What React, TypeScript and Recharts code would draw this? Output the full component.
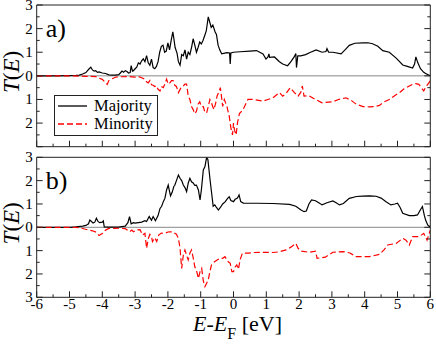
import React from 'react';
import { LineChart, Line, XAxis, YAxis, ReferenceLine, Legend } from 'recharts';

// energy axis (eV) and transmission axis ticks, every 0.5
const energyTicks = [-6, -5.5, -5, -4.5, -4, -3.5, -3, -2.5, -2, -1.5, -1, -0.5, 0, 0.5, 1, 1.5, 2, 2.5, 3, 3.5, 4, 4.5, 5, 5.5, 6];
const transTicks = [-3, -2.5, -2, -1.5, -1, -0.5, 0, 0.5, 1, 1.5, 2, 2.5, 3];
const seriesNames = ['Majority', 'Minority'];
const panelTags = ['a)', 'b)'];

// [E - E_F, T(E)]; minority is drawn downward
const aMajority: [number, number][] = [
  [-6, 0], [-5.5, 0], [-5, 0.01], [-4.8, 0.02], [-4.7, 0.03], [-4.6, 0.08], [-4.5, 0.14], [-4.45, 0.22], [-4.4, 0.3],
  [-4.35, 0.37], [-4.3, 0.25], [-4.25, 0.2], [-4.2, 0.22], [-4.15, 0.15], [-4.1, 0.17], [-4.0, 0.12], [-3.9, 0.1],
  [-3.8, 0.04], [-3.7, 0.03], [-3.6, 0.03], [-3.5, 0.05], [-3.45, 0.12], [-3.4, 0.2], [-3.35, 0.15], [-3.3, 0.22],
  [-3.25, 0.18], [-3.2, 0.12], [-3.15, 0.14], [-3.12, 0.43], [-3.08, 0.2], [-3.05, 0.22], [-3.0, 0.3], [-2.95, 0.37],
  [-2.9, 0.55], [-2.85, 0.5], [-2.8, 0.64], [-2.75, 0.72], [-2.7, 0.6], [-2.65, 0.86], [-2.6, 0.55], [-2.55, 0.45],
  [-2.5, 0.71], [-2.45, 0.35], [-2.4, 0.3], [-2.35, 0.4], [-2.3, 0.6], [-2.25, 1.0], [-2.2, 1.25], [-2.15, 1.3],
  [-2.1, 1.0], [-2.05, 1.05], [-2.0, 1.4], [-1.95, 1.1], [-1.9, 1.5], [-1.85, 1.86], [-1.82, 1.6], [-1.78, 1.2],
  [-1.72, 0.95], [-1.68, 0.6], [-1.63, 0.45], [-1.58, 0.9], [-1.53, 0.85], [-1.48, 1.1], [-1.43, 0.71], [-1.38, 1.0],
  [-1.33, 0.9], [-1.28, 1.2], [-1.23, 1.57], [-1.18, 1.3], [-1.13, 1.0], [-1.08, 1.2], [-1.03, 1.43], [-0.98, 1.35],
  [-0.93, 1.5], [-0.88, 1.7], [-0.83, 1.9], [-0.77, 2.5], [-0.73, 2.3], [-0.68, 2.05], [-0.63, 2.15], [-0.56, 1.86],
  [-0.52, 1.75], [-0.47, 1.3], [-0.42, 1.1], [-0.36, 0.93], [-0.3, 0.95], [-0.2, 0.98], [-0.12, 0.97], [-0.1, 0.5],
  [-0.08, 0.97], [0, 1.0], [0.2, 1.02], [0.5, 1.05], [0.7, 1.07], [0.9, 0.93], [0.99, 0.71], [1.05, 0.8], [1.08, 0.93],
  [1.1, 0.78], [1.25, 0.8], [1.4, 0.6], [1.5, 0.5], [1.65, 0.43], [1.75, 0.6], [1.85, 0.8], [1.9, 0.95], [1.92, 0.35],
  [1.96, 0.85], [2.05, 0.85], [2.2, 0.9], [2.35, 1.0], [2.52, 1.1], [2.7, 1.0], [2.82, 1.03], [2.85, 1.15], [2.9, 1.0],
  [3.03, 1.0], [3.28, 0.93], [3.4, 1.1], [3.53, 1.29], [3.7, 1.38], [3.94, 1.4], [4.1, 1.4], [4.24, 1.36], [4.4, 1.25],
  [4.55, 1.07], [4.75, 1.0], [4.96, 0.75], [5.16, 0.46], [5.3, 0.4], [5.46, 0.33], [5.52, 0.5], [5.56, 0.8],
  [5.62, 0.55], [5.7, 0.3], [5.8, 0.15], [5.86, 0.1], [5.95, 0.03], [6, 0.02],
];

const aMinority: [number, number][] = [
  [-6, 0], [-5, 0], [-4.5, 0.02], [-4.2, 0.03], [-4.1, 0.1], [-4.0, 0.15], [-3.92, 0.26], [-3.85, 0.36], [-3.8, 0.2],
  [-3.7, 0.12], [-3.6, 0.06], [-3.5, 0.04], [-3.2, 0.03], [-3.0, 0.05], [-2.9, 0.03], [-2.8, 0.08], [-2.7, 0.14],
  [-2.65, 0.25], [-2.6, 0.3], [-2.55, 0.2], [-2.5, 0.38], [-2.45, 0.4], [-2.4, 0.45], [-2.35, 0.42], [-2.3, 0.57],
  [-2.24, 0.64], [-2.2, 0.45], [-2.14, 0.5], [-2.08, 0.3], [-2.04, 0.14], [-1.99, 0.35], [-1.94, 0.3], [-1.89, 0.2],
  [-1.84, 0.2], [-1.79, 0.4], [-1.74, 0.45], [-1.68, 0.71], [-1.6, 0.5], [-1.53, 0.43], [-1.48, 0.35], [-1.43, 0.35],
  [-1.38, 0.85], [-1.33, 1.0], [-1.28, 1.3], [-1.23, 1.43], [-1.18, 1.6], [-1.13, 1.5], [-1.08, 1.2], [-1.03, 1.1],
  [-0.98, 1.3], [-0.92, 1.3], [-0.87, 1.55], [-0.82, 1.57], [-0.77, 1.3], [-0.72, 1.0], [-0.67, 1.15], [-0.6, 1.43],
  [-0.55, 1.2], [-0.5, 0.85], [-0.45, 0.7], [-0.4, 0.5], [-0.33, 1.29], [-0.28, 1.0], [-0.2, 1.3], [-0.13, 1.71],
  [-0.08, 2.2], [-0.03, 2.5], [0.0, 2.0], [0.03, 2.3], [0.08, 2.5], [0.12, 2.0], [0.18, 1.6], [0.29, 1.43], [0.44, 1.0],
  [0.6, 1.0], [0.9, 1.07], [1.05, 1.0], [1.2, 0.93], [1.4, 0.71], [1.5, 0.86], [1.6, 0.75], [1.73, 0.5], [1.85, 0.7],
  [1.97, 0.86], [2.05, 0.7], [2.1, 0.43], [2.15, 0.86], [2.3, 0.84], [2.5, 1.0], [2.7, 1.14], [3.03, 1.1], [3.2, 1.0],
  [3.43, 0.93], [3.6, 1.05], [3.74, 1.2], [3.95, 1.3], [4.14, 1.31], [4.3, 1.3], [4.45, 1.25], [4.6, 1.1], [4.75, 1.0],
  [4.9, 0.85], [5.06, 0.71], [5.2, 0.55], [5.36, 0.43], [5.46, 0.36], [5.56, 0.33], [5.65, 0.36], [5.7, 0.45],
  [5.8, 0.64], [5.85, 0.5], [5.9, 0.4], [6, 0.21],
];

const bMajority: [number, number][] = [
  [-6, 0], [-5, 0], [-4.8, 0.02], [-4.6, 0.05], [-4.5, 0.08], [-4.42, 0.15], [-4.38, 0.31], [-4.33, 0.25], [-4.28, 0.18],
  [-4.23, 0.22], [-4.18, 0.39], [-4.13, 0.25], [-4.08, 0.2], [-4.0, 0.22], [-3.97, 0.27], [-3.94, 0.02], [-3.8, 0.01],
  [-3.5, 0.01], [-3.3, 0.05], [-3.22, 0.2], [-3.17, 0.46], [-3.12, 0.15], [-3.05, 0.2], [-3.0, 0.18], [-2.9, 0.2],
  [-2.8, 0.22], [-2.7, 0.28], [-2.65, 0.25], [-2.57, 0.46], [-2.5, 0.3], [-2.45, 0.46], [-2.38, 0.28], [-2.3, 0.5],
  [-2.24, 0.81], [-2.19, 0.9], [-2.14, 1.1], [-2.09, 1.25], [-2.04, 1.6], [-1.99, 1.81], [-1.96, 1.6], [-1.92, 1.35],
  [-1.87, 1.5], [-1.82, 1.75], [-1.79, 1.8], [-1.74, 2.0], [-1.68, 2.24], [-1.63, 2.1], [-1.58, 2.0], [-1.53, 1.81],
  [-1.48, 1.7], [-1.43, 1.53], [-1.38, 1.9], [-1.33, 2.1], [-1.28, 1.95], [-1.23, 1.9], [-1.18, 1.8], [-1.13, 1.81],
  [-1.07, 1.6], [-1.02, 1.17], [-0.98, 1.6], [-0.92, 2.46], [-0.87, 2.6], [-0.82, 3.0], [-0.78, 2.9], [-0.72, 2.1],
  [-0.67, 1.5], [-0.62, 0.9], [-0.57, 0.96], [-0.52, 0.85], [-0.46, 0.74], [-0.4, 0.85], [-0.33, 1.0], [-0.25, 1.1],
  [-0.18, 1.24], [-0.13, 1.31], [-0.08, 1.15], [0.0, 1.1], [0.05, 1.2], [0.12, 1.25], [0.17, 1.39], [0.22, 1.1],
  [0.3, 1.04], [0.7, 1.03], [1.2, 1.02], [1.71, 0.98], [1.9, 0.9], [2.06, 0.74], [2.15, 0.67], [2.22, 0.7], [2.3, 1.0],
  [2.38, 1.17], [2.5, 1.14], [2.6, 1.05], [2.7, 0.96], [2.85, 1.05], [3.03, 1.13], [3.13, 1.05], [3.23, 0.96],
  [3.35, 1.02], [3.53, 1.24], [3.75, 1.32], [3.94, 1.34], [4.15, 1.35], [4.35, 1.33], [4.5, 1.25], [4.65, 1.1],
  [4.8, 0.96], [4.92, 1.0], [5.0, 1.03], [5.08, 0.85], [5.16, 0.6], [5.36, 0.5], [5.5, 0.5], [5.61, 0.53], [5.7, 0.75],
  [5.76, 0.89], [5.82, 0.5], [5.86, 0.3], [5.92, 0.1], [5.96, 0.05], [6, 0.03],
];

const bMinority: [number, number][] = [
  [-6, 0], [-4.8, 0], [-4.6, 0.05], [-4.42, 0.12], [-4.3, 0.15], [-4.18, 0.21], [-4.1, 0.35], [-3.99, 0.26], [-3.9, 0.12],
  [-3.8, 0.05], [-3.5, 0.04], [-3.3, 0.06], [-3.17, 0.19], [-3.1, 0.12], [-3.05, 0.19], [-2.97, 0.12], [-2.85, 0.1],
  [-2.77, 0.33], [-2.7, 0.26], [-2.65, 0.9], [-2.6, 0.5], [-2.55, 0.3], [-2.5, 0.4], [-2.47, 0.61], [-2.4, 0.45],
  [-2.34, 0.61], [-2.28, 0.33], [-2.2, 0.25], [-2.1, 0.26], [-2.0, 0.2], [-1.94, 0.19], [-1.84, 0.2], [-1.79, 0.26],
  [-1.74, 0.3], [-1.68, 0.47], [-1.63, 0.9], [-1.58, 1.76], [-1.53, 1.2], [-1.48, 0.97], [-1.43, 1.2], [-1.38, 1.4],
  [-1.33, 1.1], [-1.28, 0.97], [-1.23, 1.3], [-1.18, 1.69], [-1.12, 1.9], [-1.07, 2.19], [-1.02, 1.9], [-0.97, 1.76],
  [-0.92, 2.3], [-0.87, 2.54], [-0.82, 2.4], [-0.77, 2.26], [-0.72, 1.9], [-0.67, 1.61], [-0.6, 1.5], [-0.5, 1.4],
  [-0.4, 1.33], [-0.33, 1.33], [-0.26, 1.26], [-0.18, 1.45], [-0.1, 1.54], [-0.05, 1.9], [0.0, 1.9], [0.05, 1.7],
  [0.1, 1.61], [0.15, 1.8], [0.2, 1.4], [0.27, 1.11], [0.44, 1.11], [0.6, 1.08], [1.0, 1.07], [1.2, 1.08], [1.4, 1.05],
  [1.6, 0.97], [1.75, 0.85], [1.9, 0.69], [1.97, 0.9], [2.06, 1.02], [2.3, 1.07], [2.5, 1.02], [2.55, 1.33],
  [2.8, 1.28], [3.03, 1.07], [3.33, 1.04], [3.55, 1.1], [3.74, 1.26], [4.14, 1.26], [4.45, 1.16], [4.6, 0.95],
  [4.7, 0.76], [4.96, 0.69], [5.16, 0.47], [5.26, 0.55], [5.36, 0.76], [5.46, 0.4], [5.66, 0.4], [5.8, 0.26],
  [5.9, 0.55], [6, 0.12],
];

const INK = '#222';
const RED = '#ff0000';
const FONT = 'Liberation Serif, Times New Roman, serif';
const DASH = '6 3';

const txt = { fontFamily: FONT };

const isMajor = (v: number) => Math.abs(v - Math.round(v)) < 1e-6;
const toRows = (pts: [number, number][], sign: number) => pts.map(([e, t]) => ({ e, t: sign * t }));

const BottomTick = ({ x, y, payload, showText }: any) => {
  const len = isMajor(payload.value) ? 6 : 3;
  return (
    <g>
      <line x1={x} x2={x} y1={y} y2={y - len} stroke={INK} />
      {showText && isMajor(payload.value) ? (
        <text x={x} y={y + 11.5} textAnchor="middle" style={txt} fontSize={15} fill="#000">
          {payload.value}
        </text>
      ) : null}
    </g>
  );
};

const TopTick = ({ x, y, payload }: any) => {
  const len = isMajor(payload.value) ? 6 : 3;
  return <line x1={x} x2={x} y1={y} y2={y + len} stroke={INK} />;
};

const LeftTick = ({ x, y, payload, hideBottom }: any) => {
  const v = payload.value;
  const len = isMajor(v) ? 6 : 3;
  const show = isMajor(v) && !(hideBottom && v === -3);
  return (
    <g>
      <line x1={x} x2={x + len} y1={y} y2={y} stroke={INK} />
      {show ? (
        <text x={x - 4} y={y + 5} textAnchor="end" style={txt} fontSize={15} fill="#000">
          {Math.abs(v)}
        </text>
      ) : null}
    </g>
  );
};

const RightTick = ({ x, y, payload }: any) => {
  const len = isMajor(payload.value) ? 6 : 3;
  return <line x1={x} x2={x - len} y1={y} y2={y} stroke={INK} />;
};

const PanelDecor = ({ viewBox, tag }: any) => {
  const { x, y, width, height } = viewBox;
  const cy = y + height / 2 - 4;
  return (
    <g style={txt} fill="#000">
      <text transform={`translate(${x + 19},${cy}) rotate(-90)`} textAnchor="middle" style={txt} fontSize={23}>
        <tspan fontStyle="italic">T</tspan>(<tspan fontStyle="italic">E</tspan>)
      </text>
      <text x={x + width + 9} y={y + 32} style={txt} fontSize={26}>{tag}</text>
    </g>
  );
};

const EnergyTitle = ({ viewBox }: any) => {
  const { x, y, width } = viewBox;
  return (
    <text x={x + width / 2 + 4} y={y + 34} textAnchor="middle" style={txt} fontSize={22} fill="#000">
      <tspan fontStyle="italic">E</tspan>-<tspan fontStyle="italic">E</tspan>
      <tspan fontSize={16} dy={8}>F</tspan>
      <tspan dy={-8}> [eV]</tspan>
    </text>
  );
};

const LegendBox = ({ payload }: any) => (
  <svg width={104} height={41} style={{ display: 'block' }}>
    <rect x={0.5} y={0.5} width={103} height={40} fill="#fff" stroke={INK} />
    {(payload || []).map((item: any, i: number) => (
      <g key={item.value}>
        <line
          x1={4}
          x2={33}
          y1={11 + i * 18}
          y2={11 + i * 18}
          stroke={item.color}
          strokeWidth={1.3}
          strokeDasharray={i === 1 ? DASH : undefined}
        />
        <text x={40} y={16 + i * 18} style={txt} fontSize={16.5} fill="#000">
          {item.value}
        </text>
      </g>
    ))}
  </svg>
);

interface PanelProps {
  majority: [number, number][];
  minority: [number, number][];
  tag: string;
  height: number;
  top: number;
  bottom: number;
  last: boolean;
}

// axes get a 1px size (zero-size axes are not drawn), margins shrink by 1 to keep the frame
const Panel: React.FC<PanelProps> = ({ majority, minority, tag, height, top, bottom, last }) => (
  <LineChart width={436} height={height} margin={{ top: top - 1, right: 4.7, bottom: bottom - 1, left: 0 }}>
    <XAxis
      xAxisId="b"
      dataKey="e"
      type="number"
      domain={[-6, 6]}
      ticks={energyTicks}
      interval={0}
      height={1}
      tickSize={0}
      tickMargin={0}
      tickLine={false}
      axisLine={{ stroke: INK }}
      tick={(p: any) => <BottomTick {...p} showText={last} />}
      label={last ? (p: any) => <EnergyTitle {...p} /> : undefined}
      allowDataOverflow
    />
    <XAxis
      xAxisId="t"
      orientation="top"
      type="number"
      domain={[-6, 6]}
      ticks={energyTicks}
      interval={0}
      height={1}
      tickSize={0}
      tickMargin={0}
      tickLine={false}
      axisLine={{ stroke: INK }}
      tick={(p: any) => <TopTick {...p} />}
      allowDataOverflow
    />
    <YAxis
      yAxisId="l"
      type="number"
      domain={[-3, 3]}
      ticks={transTicks}
      interval={0}
      width={36.7}
      tickSize={0}
      tickMargin={0}
      tickLine={false}
      axisLine={{ stroke: INK }}
      tick={(p: any) => <LeftTick {...p} hideBottom={!last} />}
      label={(p: any) => <PanelDecor {...p} tag={tag} />}
      allowDataOverflow
    />
    <YAxis
      yAxisId="r"
      orientation="right"
      type="number"
      domain={[-3, 3]}
      ticks={transTicks}
      interval={0}
      width={1}
      tickSize={0}
      tickMargin={0}
      tickLine={false}
      axisLine={{ stroke: INK }}
      tick={(p: any) => <RightTick {...p} />}
      allowDataOverflow
    />
    <ReferenceLine xAxisId="b" yAxisId="l" y={0} stroke="#888" strokeWidth={1} />
    <Line
      xAxisId="b"
      yAxisId="l"
      data={toRows(majority, 1)}
      dataKey="t"
      name={seriesNames[0]}
      type="linear"
      stroke="#000"
      strokeWidth={1.2}
      dot={false}
      isAnimationActive={false}
    />
    <Line
      xAxisId="b"
      yAxisId="l"
      data={toRows(minority, -1)}
      dataKey="t"
      name={seriesNames[1]}
      type="linear"
      stroke={RED}
      strokeWidth={1.2}
      strokeDasharray={DASH}
      dot={false}
      isAnimationActive={false}
    />
    {!last && (
      <Legend
        layout="vertical"
        align="center"
        verticalAlign="middle"
        content={(p: any) => <LegendBox {...p} />}
        wrapperStyle={{ left: 54, top: 95, width: 104, height: 41 }}
      />
    )}
  </LineChart>
);

export default function App() {
  return (
    <div style={{ position: 'fixed', left: 0, top: 0, width: 436, height: 344, background: '#fff', fontFamily: FONT }}>
      <div style={{ position: 'absolute', left: 0, top: 0 }}>
        <Panel majority={aMajority} minority={aMinority} tag={panelTags[0]} height={150} top={5} bottom={3.3} last={false} />
      </div>
      <div style={{ position: 'absolute', left: 0, top: 150 }}>
        <Panel majority={bMajority} minority={bMinority} tag={panelTags[1]} height={194} top={7.3} bottom={46.7} last />
      </div>
    </div>
  );
}
